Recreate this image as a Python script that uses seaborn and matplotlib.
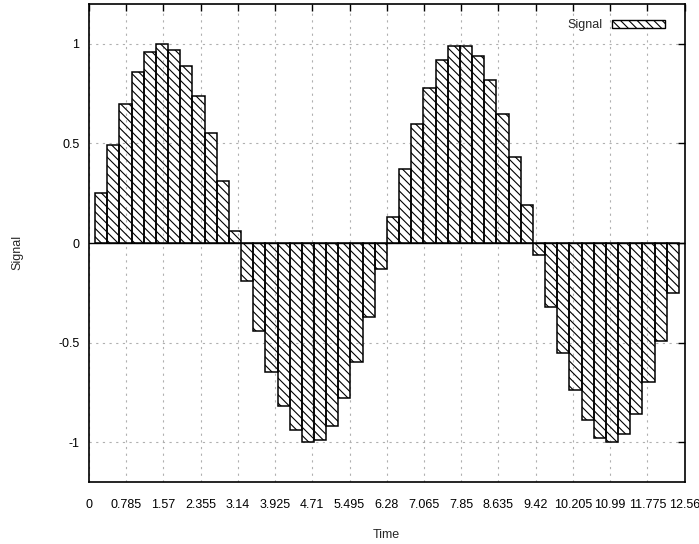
import matplotlib
matplotlib.use('Agg')
import matplotlib.pyplot as plt
import seaborn as sns
from matplotlib.patches import Patch

# bar centres (Time) and heights (Signal)
time = [0.257, 0.513, 0.770, 1.026, 1.283, 1.539, 1.796, 2.052, 2.309, 2.565,
        2.822, 3.078, 3.335, 3.591, 3.848, 4.104, 4.361, 4.617, 4.874, 5.130,
        5.387, 5.643, 5.900, 6.156, 6.413, 6.669, 6.926, 7.182, 7.439, 7.695,
        7.952, 8.208, 8.465, 8.721, 8.978, 9.234, 9.491, 9.747, 10.004, 10.260,
        10.517, 10.773, 11.030, 11.286, 11.543, 11.799, 12.056, 12.312]
signal = [0.25, 0.49, 0.70, 0.86, 0.96, 1.00, 0.97, 0.89, 0.74, 0.55,
          0.31, 0.06, -0.19, -0.44, -0.65, -0.82, -0.94, -1.00, -0.99, -0.92,
          -0.78, -0.60, -0.37, -0.13, 0.13, 0.37, 0.60, 0.78, 0.92, 0.99,
          0.99, 0.94, 0.82, 0.65, 0.43, 0.19, -0.06, -0.32, -0.55, -0.74,
          -0.89, -0.98, -1.00, -0.96, -0.86, -0.70, -0.49, -0.25]
xticks = [0, 0.785, 1.57, 2.355, 3.14, 3.925, 4.71, 5.495, 6.28, 7.065, 7.85,
          8.635, 9.42, 10.205, 10.99, 11.775, 12.56]
xticklabels = ['0', '0.785', '1.57', '2.355', '3.14', '3.925', '4.71', '5.495',
               '6.28', '7.065', '7.85', '8.635', '9.42', '10.205', '10.99',
               '11.775', '12.56']
yticks = [-1, -0.5, 0, 0.5, 1]
yticklabels = ['-1', '-0.5', '0', '0.5', '1']

sns.set_style('white')
plt.rcParams['font.family'] = ['Liberation Sans', 'DejaVu Sans']
plt.rcParams['hatch.linewidth'] = 0.8
hatch = '\\\\\\\\'
fs = 9

fig = plt.figure(figsize=(6.99, 5.44), dpi=100)
ax = fig.add_axes([0.1273, 0.114, 0.852, 0.8786])

sns.barplot(x=time, y=signal, native_scale=True, width=1.0, fill=False,
            color='black', errorbar=None, hatch=hatch, linewidth=1.1, ax=ax)

ax.axhline(0, color='black', linewidth=1.0)
ax.set_xlim(0, 12.56)
ax.set_ylim(-1.2, 1.2)
ax.set_xticks(xticks)
ax.set_xticklabels(xticklabels)
ax.set_yticks(yticks)
ax.set_yticklabels(yticklabels)
ax.tick_params(direction='in', length=5, width=1, top=True, right=True,
               labelsize=fs, colors='black')
ax.tick_params(axis='x', pad=12)
ax.tick_params(axis='y', pad=7)
ax.grid(True, color='#b0b0b0', linestyle=(0, (2, 4)), linewidth=0.8)
for s in ax.spines.values():
    s.set_color('black')
    s.set_linewidth(1.2)

ax.set_xlabel('Time', fontsize=fs)
ax.set_ylabel('Signal', fontsize=fs)
ax.xaxis.set_label_coords(0.5, -0.098)
ax.yaxis.set_label_coords(-0.11, 0.48)

handle = Patch(facecolor='none', edgecolor='black', hatch=hatch, linewidth=1.0,
               label='Signal')
ax.legend(handles=[handle], loc='center right', bbox_to_anchor=(0.967, 0.956),
          frameon=False, markerfirst=False, fontsize=fs, handlelength=4.2,
          handleheight=0.6, handletextpad=0.8, borderpad=0, borderaxespad=0)

fig.savefig('out.png', dpi=100)
